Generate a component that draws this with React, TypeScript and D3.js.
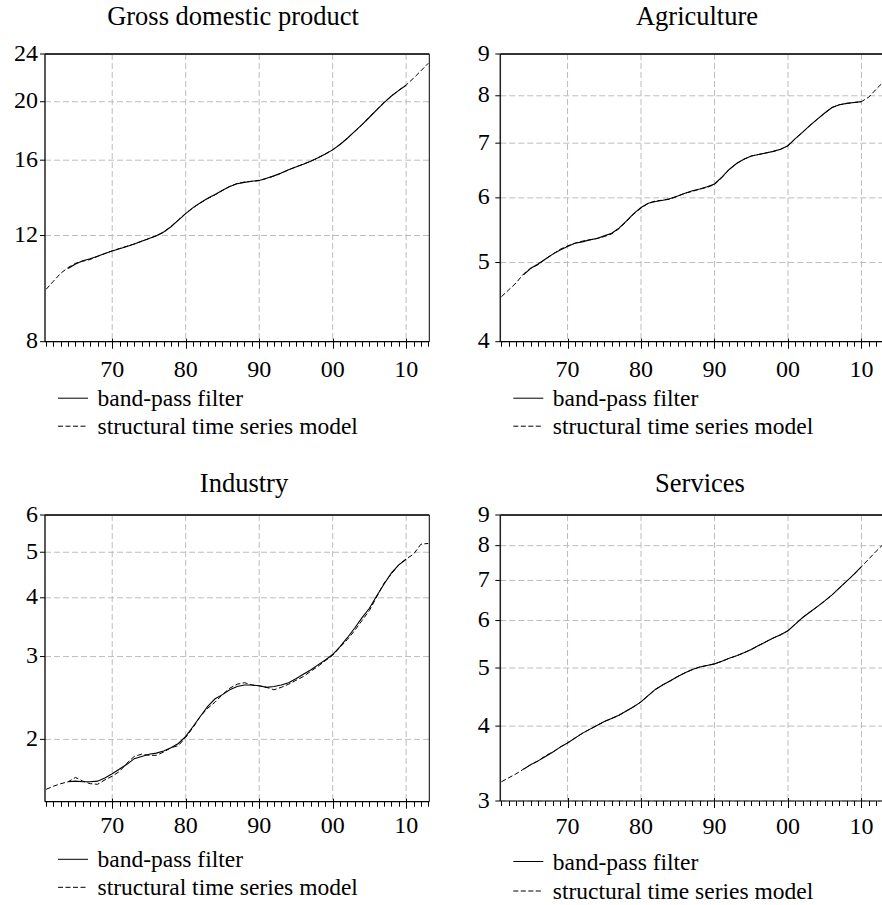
import React, { useEffect, useRef } from 'react'
import * as d3 from 'd3'

// annual observations, structural model covers 1961-2013, band-pass 1964-2010
const stsmStart = 1961
const bpStart = 1964

const gdpStsm = [
  9.77, 10.08, 10.39, 10.62, 10.79, 10.88, 10.95, 11.08, 11.2, 11.32,
  11.42, 11.52, 11.62, 11.74, 11.86, 11.98, 12.15, 12.42, 12.74, 13.06,
  13.34, 13.6, 13.82, 14.02, 14.25, 14.48, 14.64, 14.72, 14.76, 14.8,
  14.92, 15.06, 15.22, 15.42, 15.6, 15.76, 15.93, 16.14, 16.38, 16.65,
  17.0, 17.4, 17.85, 18.32, 18.85, 19.4, 19.95, 20.45, 20.9, 21.32,
  21.88, 22.5, 23.16,
]
const gdpBp = [
  10.58, 10.76, 10.9, 10.98, 11.09, 11.2, 11.31, 11.41, 11.51, 11.62,
  11.74, 11.86, 11.99, 12.16, 12.41, 12.73, 13.05, 13.35, 13.6, 13.83,
  14.03, 14.26, 14.47, 14.62, 14.7, 14.76, 14.81, 14.93, 15.07, 15.23,
  15.42, 15.59, 15.76, 15.94, 16.15, 16.38, 16.64, 16.99, 17.4, 17.86,
  18.33, 18.85, 19.39, 19.93, 20.44, 20.89, 21.3,
]

const agriStsm = [
  4.54, 4.63, 4.72, 4.84, 4.92, 4.97, 5.05, 5.12, 5.19, 5.24,
  5.28, 5.31, 5.33, 5.35, 5.38, 5.42, 5.5, 5.61, 5.73, 5.83,
  5.91, 5.95, 5.96, 5.98, 6.03, 6.08, 6.11, 6.15, 6.18, 6.23,
  6.35, 6.5, 6.61, 6.69, 6.75, 6.78, 6.81, 6.84, 6.88, 6.95,
  7.09, 7.22, 7.36, 7.49, 7.62, 7.74, 7.8, 7.83, 7.85, 7.87,
  7.97, 8.15, 8.32,
]
const agriBp = [
  4.83, 4.92, 4.98, 5.05, 5.12, 5.18, 5.23, 5.28, 5.3, 5.33,
  5.35, 5.39, 5.43, 5.51, 5.62, 5.74, 5.84, 5.91, 5.94, 5.96,
  5.99, 6.03, 6.08, 6.12, 6.15, 6.19, 6.24, 6.36, 6.5, 6.61,
  6.69, 6.75, 6.78, 6.81, 6.84, 6.88, 6.95, 7.09, 7.22, 7.36,
  7.49, 7.62, 7.74, 7.8, 7.83, 7.85, 7.87,
]

const indStsm = [
  1.566, 1.59, 1.61, 1.625, 1.66, 1.63, 1.61, 1.605, 1.64, 1.67,
  1.71, 1.78, 1.84, 1.86, 1.85, 1.85, 1.88, 1.92, 1.94, 2.02,
  2.12, 2.24, 2.33, 2.4, 2.49, 2.57, 2.62, 2.64, 2.61, 2.6,
  2.58, 2.55, 2.58, 2.62, 2.67, 2.72, 2.79, 2.86, 2.94, 3.02,
  3.14, 3.26, 3.41, 3.58, 3.76, 4.02, 4.3, 4.5, 4.7, 4.84,
  4.95, 5.2, 5.22,
]
const indBp = [
  1.625, 1.63, 1.625, 1.625, 1.63, 1.655, 1.69, 1.73, 1.77, 1.82,
  1.84, 1.86, 1.87, 1.89, 1.92, 1.96, 2.03, 2.13, 2.24, 2.35,
  2.44, 2.49, 2.55, 2.59, 2.61, 2.61, 2.6, 2.58, 2.59, 2.61,
  2.64, 2.69, 2.75, 2.81, 2.88, 2.95, 3.03, 3.15, 3.29, 3.45,
  3.63, 3.8, 4.04, 4.28, 4.52, 4.7, 4.83,
]

const servStsm = [
  3.23, 3.28, 3.33, 3.39, 3.45, 3.5, 3.57, 3.62, 3.69, 3.75,
  3.82, 3.89, 3.95, 4.01, 4.07, 4.12, 4.17, 4.24, 4.31, 4.39,
  4.5, 4.61, 4.69, 4.76, 4.84, 4.91, 4.97, 5.02, 5.05, 5.08,
  5.13, 5.19, 5.24, 5.3, 5.37, 5.45, 5.53, 5.61, 5.68, 5.77,
  5.92, 6.07, 6.2, 6.33, 6.47, 6.62, 6.8, 6.98, 7.17, 7.38,
  7.6, 7.83, 8.05,
]
const servBp = [
  3.39, 3.45, 3.5, 3.56, 3.62, 3.69, 3.75, 3.82, 3.89, 3.95,
  4.01, 4.07, 4.12, 4.17, 4.24, 4.31, 4.39, 4.5, 4.61, 4.69,
  4.76, 4.84, 4.91, 4.97, 5.02, 5.05, 5.08, 5.13, 5.19, 5.24,
  5.3, 5.37, 5.45, 5.53, 5.61, 5.68, 5.77, 5.92, 6.07, 6.2,
  6.33, 6.47, 6.62, 6.8, 6.98, 7.17, 7.38,
]

const xTickYears = [1970, 1980, 1990, 2000, 2010]
const gdpTicks = [8, 12, 16, 20, 24]
const agriTicks = [4, 5, 6, 7, 8, 9]
const indTicks = [2, 3, 4, 5, 6]
const servTicks = [3, 4, 5, 6, 7, 8, 9]

const legendLabels = ['band-pass filter', 'structural time series model']

const panels = [
  { title: 'Gross domestic product', stsm: gdpStsm, bp: gdpBp, ticks: gdpTicks, domain: [8, 24],
    left: 45, top: 54, w: 384.3, h: 287.7, titleX: 233, titleY: 24.5, labGap: 7, xLabY: 35, legY: 56.5, legStep: 28 },
  { title: 'Agriculture', stsm: agriStsm, bp: agriBp, ticks: agriTicks, domain: [4, 9],
    left: 500.3, top: 54, w: 384.3, h: 287.7, titleX: 697, titleY: 24.5, labGap: 10.5, xLabY: 35, legY: 56.5, legStep: 28 },
  { title: 'Industry', stsm: indStsm, bp: indBp, ticks: indTicks, domain: [1.474, 6],
    left: 45, top: 515, w: 384.3, h: 286.7, titleX: 244, titleY: 491.7, labGap: 7, xLabY: 31.6, legY: 57.6, legStep: 28 },
  { title: 'Services', stsm: servStsm, bp: servBp, ticks: servTicks, domain: [3, 9],
    left: 500.3, top: 515, w: 384.3, h: 286, titleX: 700, titleY: 491.7, labGap: 10.5, xLabY: 33, legY: 60.5, legStep: 29.5 },
]

const FONT = "'Liberation Serif', 'Times New Roman', 'DejaVu Serif', serif"

const App = () => {
  const svgRef = useRef(null)

  useEffect(() => {
    const svg = d3.select(svgRef.current)
    svg.selectAll('*').remove()
    svg.attr('font-family', FONT)

    panels.forEach(p => {
      const g = svg.append('g')
      const x = d3.scaleLinear().domain([1960.85, 2013.15]).range([p.left, p.left + p.w])
      const y = d3.scaleLog().domain(p.domain).range([p.top + p.h, p.top])
      const bottom = p.top + p.h
      const crisp = (v: number) => Math.round(v) + 0.5

      // grid
      g.append('g').selectAll('line').data(p.ticks).join('line')
        .attr('x1', p.left).attr('x2', p.left + p.w)
        .attr('y1', d => y(d)).attr('y2', d => y(d))
        .attr('stroke', '#bdbdbd').attr('stroke-dasharray', '6,3')
      g.append('g').selectAll('line').data(xTickYears).join('line')
        .attr('x1', d => x(d)).attr('x2', d => x(d))
        .attr('y1', p.top).attr('y2', bottom)
        .attr('stroke', '#bdbdbd').attr('stroke-dasharray', '6,3')

      // series
      const lineStsm = d3.line<number>().x((d, i) => x(stsmStart + i)).y(d => y(d))
      const lineBp = d3.line<number>().x((d, i) => x(bpStart + i)).y(d => y(d))
      g.append('path').attr('d', lineStsm(p.stsm)).attr('fill', 'none')
        .attr('stroke', '#000').attr('stroke-width', 1).attr('stroke-dasharray', '5,2.5')
      g.append('path').attr('d', lineBp(p.bp)).attr('fill', 'none')
        .attr('stroke', '#000').attr('stroke-width', 1.1)

      // frame
      g.append('line').attr('x1', p.left).attr('x2', p.left + p.w).attr('y1', p.top).attr('y2', p.top)
        .attr('stroke', '#333').attr('stroke-width', 2)
      g.append('line').attr('x1', p.left + p.w).attr('x2', p.left + p.w).attr('y1', p.top).attr('y2', bottom)
        .attr('stroke', '#000').attr('stroke-width', 1)
      g.append('line').attr('x1', p.left).attr('x2', p.left).attr('y1', p.top).attr('y2', bottom)
        .attr('stroke', '#222').attr('stroke-width', 1.5)
      g.append('line').attr('x1', p.left).attr('x2', p.left + p.w).attr('y1', bottom).attr('y2', bottom)
        .attr('stroke', '#000').attr('stroke-width', 1.2)

      // y axis ticks + labels
      g.append('g').selectAll('line').data(p.ticks).join('line')
        .attr('x1', p.left - 5).attr('x2', p.left)
        .attr('y1', d => y(d)).attr('y2', d => y(d))
        .attr('stroke', '#000')
      g.append('g').selectAll('text').data(p.ticks).join('text')
        .attr('x', p.left - p.labGap).attr('y', d => y(d) + 6.5)
        .attr('text-anchor', 'end')
        .attr('font-size', 24).attr('fill', '#000')
        .text(d => d)

      // x axis ticks: every year, longer at decades
      const years = d3.range(1961, 2014)
      g.append('g').selectAll('line').data(years).join('line')
        .attr('x1', d => crisp(x(d))).attr('x2', d => crisp(x(d)))
        .attr('y1', d => xTickYears.includes(d) ? bottom - 3 : bottom)
        .attr('y2', d => xTickYears.includes(d) ? bottom + 7 : bottom + 5)
        .attr('stroke', '#000').attr('stroke-width', 1)
      g.append('g').selectAll('text').data(xTickYears).join('text')
        .attr('x', d => x(d)).attr('y', bottom + p.xLabY)
        .attr('text-anchor', 'middle')
        .attr('font-size', 24).attr('fill', '#000')
        .text(d => String(d % 100).padStart(2, '0'))

      // title
      g.append('text').attr('x', p.titleX).attr('y', p.titleY)
        .attr('text-anchor', 'middle')
        .attr('font-size', 26.5).attr('fill', '#000')
        .text(p.title)

      // legend
      const leg = g.append('g')
      legendLabels.forEach((lab, i) => {
        const ly = bottom + p.legY + i * p.legStep
        leg.append('line').attr('x1', p.left + 13).attr('x2', p.left + 43)
          .attr('y1', ly).attr('y2', ly)
          .attr('stroke', '#000').attr('stroke-width', 1)
          .attr('stroke-dasharray', i === 1 ? '5,2.5' : null)
        leg.append('text').attr('x', p.left + 52.5).attr('y', ly + 8)
          .attr('font-size', 23.5).attr('fill', '#000')
          .text(lab)
      })
    })
  }, [])

  return (
    <svg ref={svgRef} width={882} height={905}
      style={{ position: 'absolute', left: 0, top: 0, display: 'block', background: '#fff' }} />
  )
}

export default App
